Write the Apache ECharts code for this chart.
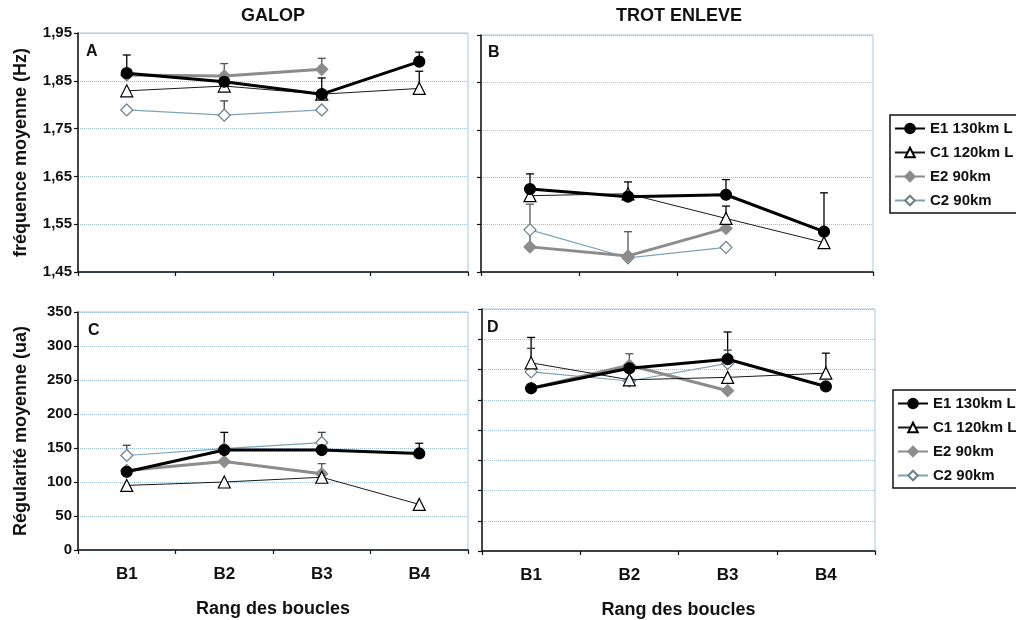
<!DOCTYPE html>
<html><head><meta charset="utf-8">
<script src="https://cdn.jsdelivr.net/npm/echarts@6/dist/echarts.min.js"></script>
<style>html,body{margin:0;padding:0;background:#fff}#c{width:1016px;height:620px}</style>
</head><body><div id="c"></div>
<script>
// ---------- DATA ----------
const categories = ['B1', 'B2', 'B3', 'B4'];
const seriesNames = ['E1 130km L', 'C1 120km L', 'E2 90km', 'C2 90km'];
const freqTicks = [1.45, 1.55, 1.65, 1.75, 1.85, 1.95];

// Panel A : GALOP – fréquence moyenne (Hz)
const galopFreqE1 = [1.866, 1.848, 1.822, 1.890];
const galopFreqC1 = [1.829, 1.839, 1.822, 1.834];
const galopFreqE2 = [1.862, 1.860, 1.874, null];
const galopFreqC2 = [1.789, 1.778, 1.789, null];
const galopFreqE1Err = [1.904, null, null, 1.910];
const galopFreqC1Err = [null, null, 1.856, 1.870];
const galopFreqE2Err = [null, 1.886, 1.897, null];
const galopFreqC2Err = [null, 1.808, null, null];

// Panel B : TROT ENLEVE – fréquence moyenne (Hz)
const trotFreqE1 = [1.625, 1.609, 1.613, 1.535];
const trotFreqC1 = [1.611, 1.615, 1.563, 1.512];
const trotFreqE2 = [1.503, 1.484, 1.542, null];
const trotFreqC2 = [1.539, 1.480, 1.502, null];
const trotFreqE1Err = [1.657, null, 1.645, 1.617];
const trotFreqC1Err = [null, 1.640, 1.589, null];
const trotFreqE2Err = [1.593, 1.535, null, null];
const trotFreqC2Err = [null, null, null, null];

// Panel C : GALOP – régularité moyenne (ua)
const galopRegE1 = [115, 147, 147, 142];
const galopRegC1 = [95, 100, 107, 67];
const galopRegE2 = [117, 130, 112, null];
const galopRegC2 = [139, 149, 158, null];
const galopRegE1Err = [null, 173, null, 157];
const galopRegC1Err = [null, null, 115, null];
const galopRegE2Err = [null, null, 127, null];
const galopRegC2Err = [154, null, 173, null];

// Panel D : TROT ENLEVE – régularité moyenne (ua)
const trotRegE1 = [269, 302, 317, 272];
const trotRegC1 = [311, 283, 287, 294];
const trotRegE2 = [269, 307, 265, null];
const trotRegC2 = [296, 281, 310, null];
const trotRegE1Err = [null, null, 362, null];
const trotRegC1Err = [353, null, null, 327];
const trotRegE2Err = [null, 326, null, null];
const trotRegC2Err = [335, null, 332, null];

// ---------- STYLE ----------
const FONT = 'Arial, "Liberation Sans", sans-serif';
const styles = [
  { line: '#000000', width: 3, symbol: 'circle', size: 11, fill: '#000000', border: '#000000', err: '#000000' },
  { line: '#1a1a1a', width: 1, symbol: 'triangle', size: 12, fill: '#ffffff', border: '#000000', err: '#000000' },
  { line: '#8c8c8c', width: 3, symbol: 'diamond', size: 12, fill: '#8c8c8c', border: '#8c8c8c', err: '#555555' },
  { line: '#7fa3b5', width: 1.2, symbol: 'diamond', size: 12, fill: '#ffffff', border: '#6e7e88', err: '#444444' }
];

const panels = [
  { vals: [galopFreqE1, galopFreqC1, galopFreqE2, galopFreqC2], errs: [galopFreqE1Err, galopFreqC1Err, galopFreqE2Err, galopFreqC2Err] },
  { vals: [trotFreqE1, trotFreqC1, trotFreqE2, trotFreqC2], errs: [trotFreqE1Err, trotFreqC1Err, trotFreqE2Err, trotFreqC2Err] },
  { vals: [galopRegE1, galopRegC1, galopRegE2, galopRegC2], errs: [galopRegE1Err, galopRegC1Err, galopRegE2Err, galopRegC2Err] },
  { vals: [trotRegE1, trotRegC1, trotRegE2, trotRegC2], errs: [trotRegE1Err, trotRegC1Err, trotRegE2Err, trotRegC2Err] }
];

const grids = [
  { left: 78, top: 33, width: 390, height: 239 },
  { left: 481, top: 35, width: 392, height: 237 },
  { left: 78, top: 312, width: 390, height: 238 },
  { left: 482, top: 309, width: 393, height: 242 }
].map(g => Object.assign(g, { show: true, borderColor: '#a9c6da', borderWidth: 1, backgroundColor: 'transparent' }));

const splitLine = { show: true, lineStyle: { color: '#9dbdd4', type: 'dotted', width: 1 } };
const axisLine = { show: true, lineStyle: { color: '#111', width: 1.5 } };
const axisTick = { show: true, length: 4, lineStyle: { color: '#111', width: 1.2 } };

const xAxes = [0, 1, 2, 3].map(i => ({
  type: 'category', gridIndex: i, data: categories, boundaryGap: true,
  axisLine, axisTick: Object.assign({}, axisTick, { alignWithLabel: false }),
  axisLabel: { show: i >= 2, margin: 16, fontFamily: FONT, fontWeight: 'bold', fontSize: 17, color: '#111' },
  name: i >= 2 ? 'Rang des boucles' : '', nameLocation: 'middle', nameGap: 50,
  nameTextStyle: { fontFamily: FONT, fontWeight: 'bold', fontSize: 18, color: '#111' },
  splitLine: { show: false }
}));

const fmtFreq = v => v.toFixed(2).replace('.', ',');
const yAxes = [
  { gridIndex: 0, type: 'value', min: 1.45, max: 1.95,
    axisLabel: { show: true, customValues: freqTicks, formatter: fmtFreq, fontFamily: FONT, fontWeight: 'bold', fontSize: 15, color: '#111', margin: 6 },
    axisTick: Object.assign({ customValues: freqTicks }, axisTick), axisLine, splitLine,
    name: 'fréquence moyenne (Hz)' },
  { gridIndex: 1, type: 'value', min: 1.45, max: 1.95,
    axisLabel: { show: false, customValues: freqTicks },
    axisTick: Object.assign({ customValues: freqTicks }, axisTick), axisLine, splitLine },
  { gridIndex: 2, type: 'value', min: 0, max: 350, interval: 50,
    axisLabel: { show: true, fontFamily: FONT, fontWeight: 'bold', fontSize: 15, color: '#111', margin: 6 },
    axisTick, axisLine, splitLine,
    name: 'Régularité moyenne (ua)' },
  { gridIndex: 3, type: 'value', min: 0, max: 400, interval: 50,
    axisLabel: { show: false }, axisTick, axisLine, splitLine }
].map(a => Object.assign(a, {
  nameLocation: 'middle', nameGap: 48, nameRotate: 90,
  nameTextStyle: { fontFamily: FONT, fontWeight: 'bold', fontSize: 18, color: '#111' }
}));

function errRenderer(color) {
  return function (params, api) {
    const x = api.value(0), v = api.value(1), t = api.value(2);
    const p0 = api.coord([x, v]);
    const p1 = api.coord([x, t]);
    const w = 4;
    return {
      type: 'group',
      children: [
        { type: 'line', shape: { x1: p0[0], y1: p0[1], x2: p1[0], y2: p1[1] }, style: { stroke: color, lineWidth: 1.3 } },
        { type: 'line', shape: { x1: p1[0] - w, y1: p1[1], x2: p1[0] + w, y2: p1[1] }, style: { stroke: color, lineWidth: 1.3 } }
      ]
    };
  };
}

const series = [];
panels.forEach((p, pi) => {
  p.vals.forEach((vals, si) => {
    const st = styles[si];
    const errData = [];
    p.errs[si].forEach((t, ci) => { if (t != null && vals[ci] != null) errData.push([ci, vals[ci], t]); });
    series.push({
      type: 'custom', name: 'err-' + pi + '-' + si, xAxisIndex: pi, yAxisIndex: pi, z: 1,
      renderItem: errRenderer(st.err), data: errData, silent: true
    });
  });
});
panels.forEach((p, pi) => {
  [3, 2, 1, 0].forEach(si => {
    const st = styles[si];
    series.push({
      type: 'line', name: seriesNames[si], xAxisIndex: pi, yAxisIndex: pi, z: 3 + (3 - si),
      data: p.vals[si], connectNulls: false,
      symbol: st.symbol, symbolSize: st.size, showAllSymbol: true,
      lineStyle: { color: st.line, width: st.width },
      itemStyle: { color: st.fill, borderColor: st.border, borderWidth: 1.2 }
    });
  });
});

const legendBase = {
  data: seriesNames, orient: 'vertical', itemGap: 9, itemWidth: 30, itemHeight: 12,
  textStyle: { fontFamily: FONT, fontWeight: 'bold', fontSize: 15, color: '#111' },
  borderColor: '#111', borderWidth: 1.5, backgroundColor: '#fff', padding: [6, 40, 5, 4],
  selectedMode: false
};

const panelLetter = (t, l, tp) => ({ text: t, left: l, top: tp, textStyle: { fontFamily: FONT, fontWeight: 'bold', fontSize: 16, color: '#111' }, padding: 0 });

const option = {
  animation: false,
  backgroundColor: '#fff',
  title: [
    { text: 'GALOP', left: 273, top: 7, textAlign: 'center', padding: 0, textStyle: { fontFamily: FONT, fontWeight: 'bold', fontSize: 18, color: '#111' } },
    { text: 'TROT ENLEVE', left: 679, top: 7, textAlign: 'center', padding: 0, textStyle: { fontFamily: FONT, fontWeight: 'bold', fontSize: 18, color: '#111' } },
    panelLetter('A', 86, 44), panelLetter('B', 488, 45), panelLetter('C', 88, 323), panelLetter('D', 487, 320)
  ],
  legend: [
    Object.assign({}, legendBase, { left: 890, top: 115 }),
    Object.assign({}, legendBase, { left: 893, top: 390 })
  ],
  grid: grids,
  xAxis: xAxes,
  yAxis: yAxes,
  series
};

const chart = echarts.init(document.getElementById('c'), null, { renderer: 'canvas' });
chart.setOption(option);
</script>
</body></html>
